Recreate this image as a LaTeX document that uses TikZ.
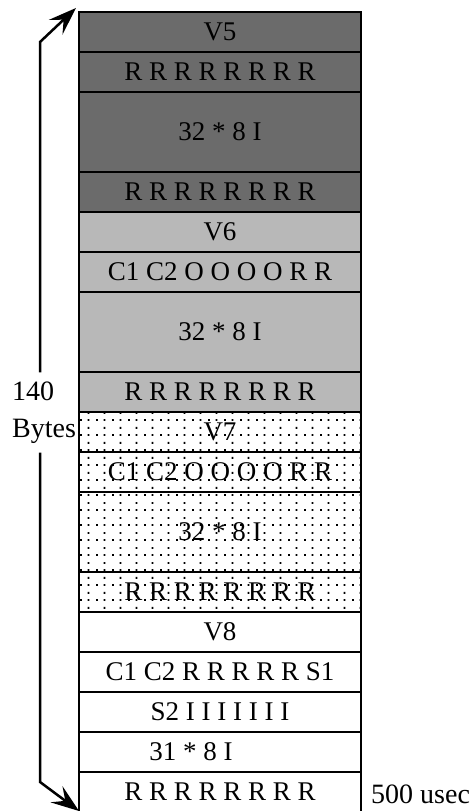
\documentclass[tikz,border=0pt]{standalone}
\usepackage{fontspec}
\setmainfont{Liberation Serif}
\usepackage{tikz}
\usetikzlibrary{arrows.meta,positioning,patterns}

\pgfdeclarepatternformonly{sparse dots}{\pgfpointorigin}{\pgfqpoint{16pt}{15pt}}{\pgfqpoint{16pt}{15pt}}{
  \pgfpathrectangle{\pgfqpoint{0pt}{0pt}}{\pgfqpoint{2pt}{2pt}}
  \pgfpathrectangle{\pgfqpoint{8pt}{0pt}}{\pgfqpoint{2pt}{2pt}}
  \pgfpathrectangle{\pgfqpoint{8pt}{7.5pt}}{\pgfqpoint{2pt}{2pt}}
  \pgfusepath{fill}}

\begin{document}
\begin{tikzpicture}[x=1pt, y=1pt, node distance=0pt,
  cell/.style={rectangle, draw, line width=2.8pt, minimum width=282pt, minimum height=40pt, inner sep=0pt, outer sep=0pt, font=\fontsize{27}{30}\selectfont},
  wide/.style={cell, minimum height=80pt},
  darkfill/.style={fill=black!58},
  midfill/.style={fill=black!28},
  dotfill/.style={pattern=sparse dots},
  line/.style={draw, line width=2.5pt},
  headed/.style={-{Stealth[length=28pt,width=20pt,inset=11pt]}}]
  \useasboundingbox (0,0) rectangle (476,811);
  % frame V5
  \node [cell, darkfill, anchor=north west] (v5) at (79,799) {V5};
  \node [cell, darkfill, below=of v5] (v5r1) {R R R R R R R R};
  \node [wide, darkfill, below=of v5r1] (v5s) {32 * 8 I};
  \node [cell, darkfill, below=of v5s] (v5r2) {R R R R R R R R};
  % frame V6
  \node [cell, midfill, below=of v5r2] (v6) {V6};
  \node [cell, midfill, below=of v6] (v6c) {C1 C2 O O O O R R};
  \node [wide, midfill, below=of v6c] (v6s) {32 * 8 I};
  \node [cell, midfill, below=of v6s] (v6r) {R R R R R R R R};
  % frame V7
  \node [cell, dotfill, below=of v6r] (v7) {V7};
  \node [cell, dotfill, below=of v7] (v7c) {C1 C2 O O O O R R};
  \node [wide, dotfill, below=of v7c] (v7s) {32 * 8 I};
  \node [cell, dotfill, below=of v7s] (v7r) {R R R R R R R R};
  % frame V8
  \node [cell, below=of v7r] (v8) {V8};
  \node [cell, below=of v8] (v8c) {C1 C2 R R R R R S1};
  \node [cell, below=of v8c] (v8i) {S2 I I I I I I I};
  \node [cell, below=of v8i] (v8s) {31 * 8 I\hspace*{58pt}};
  \node [cell, below=of v8s] (v8r) {R R R R R R R R};
  % size arrow
  \coordinate (bendtop) at (40,769);
  \coordinate (tiptop) at (76,803);
  \coordinate (bendbot) at (40,29);
  \coordinate (tipbot) at (79,0);
  \node [align=left, anchor=west, inner xsep=0pt, inner ysep=9pt, font=\fontsize{28}{37}\selectfont] (size) at (12,398.5) {140\\Bytes};
  \path [line, headed] (bendtop |- size.north) -- (bendtop) -- (tiptop);
  \path [line, headed] (bendbot |- size.south) -- (bendbot) -- (tipbot);
  \node [anchor=base west, inner sep=0pt, font=\fontsize{28}{30}\selectfont] (period) at (371,8) {500 usec};
\end{tikzpicture}
\end{document}
